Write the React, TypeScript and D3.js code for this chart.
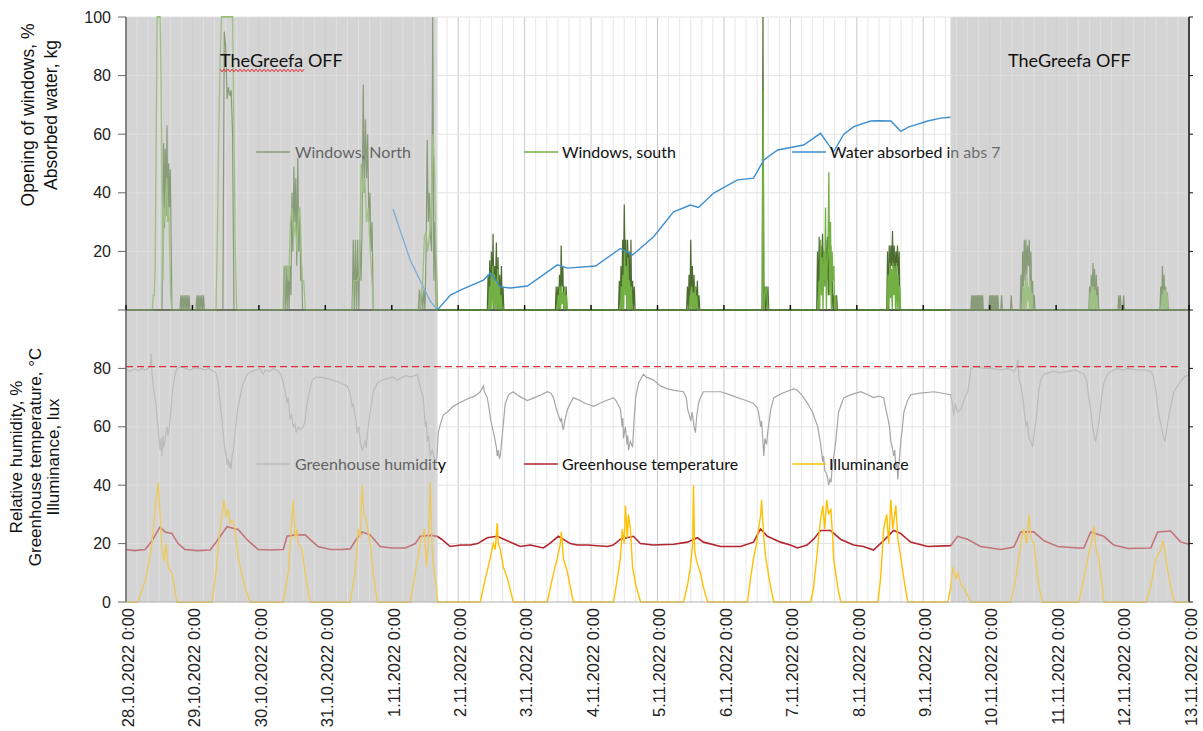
import React from "react";
import * as d3 from "d3";

type Pt = [number, number];
type Burst = [number, number, number[]]; // start hour, sample step (h), values

const dayLabels = [
  "28.10.2022 0:00", "29.10.2022 0:00", "30.10.2022 0:00", "31.10.2022 0:00",
  "1.11.2022 0:00", "2.11.2022 0:00", "3.11.2022 0:00", "4.11.2022 0:00",
  "5.11.2022 0:00", "6.11.2022 0:00", "7.11.2022 0:00", "8.11.2022 0:00",
  "9.11.2022 0:00", "10.11.2022 0:00", "11.11.2022 0:00", "12.11.2022 0:00",
  "13.11.2022 0:00",
];
const topTicks = [20, 40, 60, 80, 100];
const bottomTicks = [0, 20, 40, 60, 80];
const offPeriods: Pt[] = [[0, 112.5], [297.9, 384]];
const humidityLimit = 80.6;

// hours since 28.10.2022 0:00
const temperature: Pt[] = [
  [0, 18], [3, 17.6], [6.9, 18], [9.4, 21], [12.3, 25.7], [14.1, 24], [16.6, 23.5], [18.8, 20], [21.3, 18], [26, 17.6],
  [30.4, 17.8], [32.9, 21], [36.5, 25.8], [40.5, 24.8], [44.1, 21], [47.7, 18], [52, 17.8], [56.8, 18], [58.2, 22.5],
  [61, 23], [64.7, 23], [69.4, 19], [73.8, 18], [78, 18], [81, 18.2], [83.2, 21.5], [85.3, 24], [88.2, 23], [91.8, 19],
  [96, 18.5], [100.9, 18.5], [104.5, 20], [106.3, 22.5], [110, 22.8], [112.4, 22.5], [114, 21.5], [117.1, 19], [121, 19.5],
  [124.4, 19.5], [127, 20], [130.5, 22], [134.1, 22.5], [137.7, 21], [142.4, 19], [146.1, 19.5], [150.8, 18.5], [153, 20],
  [156.2, 22.5], [160.5, 20], [163, 19.5], [166.7, 19.5], [173.9, 19], [176, 19.5], [178.6, 21.5], [183.3, 22.5],
  [185.8, 20], [190.5, 19.5], [197.8, 19.8], [202.8, 20.5], [206.4, 22], [208.6, 20.5], [214.8, 19], [222, 19],
  [226.7, 20.5], [229.2, 25], [231.7, 22.5], [236.4, 20.5], [240, 19.5], [242.6, 18.5], [246, 19.5], [248.4, 21.5],
  [250.9, 24.5], [254.5, 24.5], [258.1, 21.5], [262.8, 19.5], [266.4, 19], [270, 17.8], [273.7, 21], [277.3, 24.5],
  [279.8, 23.5], [283.4, 20.5], [289.6, 19], [297.9, 19.3], [300.4, 22.5], [304, 21.5], [308.7, 19], [316, 18],
  [320.7, 18.8], [323.2, 24], [327.9, 24], [331.5, 21], [336.6, 19], [343.8, 18.5], [346, 18.5], [348.5, 24],
  [353.2, 22.5], [356.8, 19.5], [361.9, 18.3], [370.2, 18.5], [372.7, 24], [377.4, 24.3], [381, 20.5], [384, 19.8],
];

const illuminance: Pt[] = [
  [0, 0], [4.3, 0], [7.2, 8], [9.4, 20], [10.8, 35], [11.2, 38], [11.6, 41], [11.9, 36], [12.3, 30], [13.0, 18], [13.7, 14],
  [14.5, 20], [15.2, 12], [16.6, 10], [18.4, 0],
  [31.1, 0], [32.5, 10], [33.6, 22], [34.7, 30], [35.4, 35], [36.2, 29], [36.9, 32], [37.6, 27], [38.3, 28], [39.4, 25],
  [40.5, 15], [43.0, 5], [44.8, 0],
  [56.8, 0], [58.6, 10], [59.7, 25], [60.4, 35], [61.1, 22], [61.8, 25], [62.2, 20], [63.6, 18], [64.7, 10], [66.5, 0],
  [81, 0], [82.8, 10], [83.9, 25], [84.6, 22], [85.3, 40], [86.0, 30], [86.8, 28], [88.2, 20], [89.3, 10], [90.8, 0],
  [102.7, 0], [104.5, 10], [106.3, 20], [107.8, 25], [108.5, 12], [109.2, 20], [109.9, 41], [110.6, 18], [111.4, 10],
  [112.1, 5], [112.5, 0],
  [128.0, 0], [129.8, 8], [131.6, 15], [132.7, 20], [133.4, 18], [134.1, 27], [134.5, 20], [135.2, 18], [136.3, 12],
  [137.8, 8], [139.9, 0],
  [152.2, 0], [154, 8], [155.8, 15], [156.9, 20], [157.3, 24], [158, 15], [159.5, 10], [161.6, 0],
  [176.1, 0], [177.5, 8], [178.6, 15], [179.3, 25], [180, 20], [180.4, 33], [181.1, 22], [181.5, 30], [182.2, 25],
  [183, 12], [184.1, 6], [185.9, 0],
  [201.4, 0], [202.9, 6], [203.9, 12], [204.7, 20], [205, 40], [205.4, 18], [206.1, 14], [207.5, 10], [208.6, 5], [210.1, 0],
  [224.5, 0], [225.6, 8], [226.7, 15], [227.8, 20], [228.5, 25], [229.3, 30], [229.6, 35], [230.4, 22], [231.1, 15],
  [232.9, 5], [234, 0],
  [247.3, 0], [248.4, 5], [249.5, 15], [250.2, 22], [250.9, 28], [251.7, 33], [252.4, 25], [253.1, 35], [253.8, 30],
  [254.6, 32], [255.3, 22], [255.6, 15], [257.1, 5], [258.2, 0],
  [271.6, 0], [272.6, 8], [273.7, 25], [274.8, 30], [275.5, 20], [276.3, 35], [277, 25], [278.1, 33], [278.8, 22],
  [279.9, 15], [281, 8], [282.4, 0],
  [296.9, 0], [297.9, 5], [298.7, 12], [299.8, 8], [300.5, 10], [301.6, 6], [302.6, 5], [305.2, 0],
  [319.6, 0], [321.4, 8], [322.5, 15], [323.6, 22], [324.3, 25], [325.4, 20], [326.2, 30], [326.9, 22], [328, 20],
  [329.1, 10], [329.8, 5], [331.2, 0],
  [344.2, 0], [346, 8], [347.5, 15], [348.6, 20], [349.7, 26], [350.4, 18], [351.5, 15], [352.2, 8], [353.3, 0],
  [368.5, 0], [370.3, 6], [372.1, 15], [373.9, 18], [374.6, 21], [375.4, 17], [376.4, 10], [377.5, 5], [378.6, 0], [384, 0],
];

const humidity: Pt[] = [
  [0, 79.5], [1.5, 79], [3, 79.8], [4.5, 79.2], [5.5, 80], [7, 79.5], [8.7, 80.5], [9.1, 85], [9.4, 78], [10.1, 72],
  [10.8, 68], [11.2, 63], [11.6, 60], [12.0, 55], [12.3, 52], [12.7, 56], [13.0, 50], [13.4, 57], [13.7, 53], [14.1, 55],
  [14.5, 58], [14.8, 60], [15.2, 57], [15.9, 62], [16.6, 70], [17.2, 75], [17.8, 78], [18.4, 80], [20, 80.5], [21.5, 80],
  [23, 79.5], [25, 80.2], [26.8, 80], [28.5, 79.5], [30, 80], [31.5, 79], [32.5, 78.5], [33.3, 75], [34, 68], [34.7, 62],
  [35.4, 55], [35.8, 52], [36.2, 50], [36.5, 47], [37, 49], [37.3, 46], [37.6, 48], [38, 45.5], [38.3, 50], [38.8, 52],
  [39.4, 58], [40.3, 66], [41.2, 70], [42, 74], [43.8, 78], [45.5, 79], [47, 79.5], [48.5, 80], [49.5, 78], [50.3, 79.5],
  [52, 79], [53.2, 80], [55, 79], [56, 78], [56.8, 75], [57.5, 72], [58.2, 68], [58.6, 70], [59, 66], [59.3, 63],
  [59.8, 64], [60.4, 60], [61, 61], [61.5, 58], [62.2, 60], [63, 59], [64, 60], [64.7, 62], [65.4, 68], [66.2, 72],
  [67.3, 76], [68.5, 77], [70.1, 77], [72.5, 76.5], [74.8, 76], [77.5, 75], [79.9, 74], [80.8, 72], [81.7, 67],
  [82.1, 68], [82.5, 65], [83.1, 62], [83.5, 58], [84.1, 60], [84.6, 55], [85.3, 52], [85.7, 53], [86.4, 55], [86.8, 53],
  [87.5, 60], [88.2, 65], [89.3, 72], [90.8, 75], [92.5, 76], [94.5, 76.5], [96.5, 77], [98, 76], [99, 76.5], [101, 77.5],
  [103, 77], [105.2, 78], [106, 75], [106.7, 72], [107.4, 70], [108.1, 60], [108.5, 62], [108.8, 55], [109.3, 57],
  [109.9, 50], [110.6, 52], [111.4, 49], [112.1, 48], [112.5, 52], [112.8, 58], [113.6, 61], [114.6, 64], [116, 65],
  [118.2, 67], [121, 68.5], [124.4, 70], [126, 70.5], [128, 72], [129.1, 74], [129.5, 72], [130.5, 70], [131.2, 66],
  [131.6, 63], [132.3, 60], [133, 57], [133.4, 55], [133.8, 53], [134.1, 50], [134.5, 52], [134.9, 49], [135.2, 50],
  [135.6, 54], [136, 58], [137, 68], [138.2, 71], [139.9, 72], [142, 70.5], [145, 69], [147.5, 70], [150, 71], [152.2, 72],
  [153.5, 71.5], [154.4, 70], [155.5, 66], [156.2, 64], [156.9, 62], [157.3, 63], [157.7, 60], [158, 59], [158.5, 62],
  [159.5, 66], [160.5, 68], [161.6, 70], [164, 69], [166, 68], [168.9, 67], [171, 68], [173.5, 69], [176.1, 70], [177, 69],
  [178.6, 66], [179.2, 60], [179.5, 63], [179.7, 56], [180.4, 60], [181, 54], [181.3, 57], [181.5, 52], [182.2, 55],
  [183, 53], [183.5, 62], [184.1, 70], [185.2, 75], [186.9, 78], [188, 77], [190.6, 76], [193, 74], [195.6, 73],
  [198, 72.5], [201.4, 72], [202.4, 70], [202.9, 66], [203.5, 64], [204, 62], [204.5, 65], [205.2, 60], [205.7, 58],
  [206.1, 63], [206.8, 68], [207.5, 70], [208.6, 72], [212, 72], [214.8, 72], [218, 71], [220.9, 70], [224, 69],
  [226.7, 68], [228, 66.5], [228.5, 65], [229.3, 60], [229.6, 62], [230, 56], [230.4, 50], [230.8, 56], [231.4, 54],
  [231.8, 58], [232.9, 66], [234, 70], [237, 71.5], [241.2, 73], [242.5, 72.5], [244, 71], [246.2, 68], [248, 65],
  [249.9, 60], [250.4, 57], [250.8, 55], [251.7, 48], [252, 50], [252.4, 45], [253.1, 44], [253.5, 42], [253.8, 40],
  [254.3, 42], [254.7, 41], [255, 45], [255.7, 50], [256.4, 55], [257.4, 65], [258.5, 68], [259.3, 70], [262, 71],
  [265.4, 72], [268, 71], [270, 70], [272, 70.5], [273.7, 70], [274.5, 66], [275.2, 63], [275.8, 60], [276.3, 55],
  [276.8, 53], [277.3, 50], [277.7, 52], [278.1, 46], [278.5, 48], [278.8, 42], [279.3, 48], [279.9, 55], [280.5, 60],
  [281, 65], [282.3, 69], [283.5, 71], [287, 71.5], [291.8, 72], [295, 71.5], [297.9, 71], [298.5, 68], [299, 64],
  [299.6, 68], [300.1, 66], [300.5, 65], [301.6, 66], [303, 70], [304.1, 72], [304.7, 76], [305.2, 80], [307, 80.5],
  [309.9, 80], [313, 80], [316, 79.5], [318.5, 80], [320.7, 79], [321.5, 80], [322.2, 83], [322.6, 76], [323.3, 74],
  [324.2, 68], [325.1, 60], [325.6, 62], [326.2, 56], [326.9, 55], [327.5, 53], [328.1, 58], [328.7, 62], [329.8, 73],
  [330.5, 76], [331.6, 78], [335, 79], [337.5, 78.5], [340.3, 79], [343, 79.5], [346, 78], [347, 76], [347.8, 70],
  [348.6, 65], [349.2, 60], [349.7, 57], [350.3, 55], [350.8, 58], [351.5, 62], [352.4, 70], [353.3, 75], [354.5, 78],
  [355.8, 79], [358, 80], [360, 79.5], [362, 80], [365, 79.5], [368, 79.5], [370.3, 79], [371.2, 77], [372.1, 72],
  [372.8, 66], [373.5, 62], [374.1, 60], [374.6, 57], [375.3, 55], [375.8, 58], [376.4, 62], [377.4, 67], [378.6, 72],
  [380.5, 75], [382.2, 77], [384, 78],
];

const waterAbsorbed: Pt[] = [
  [96.5, 34.4], [99.1, 27], [102.7, 17], [106.3, 10], [109.9, 3], [112.5, 0], [117.2, 5.1], [120.8, 6.8], [129.1, 10.2],
  [131.6, 12.6], [135.2, 7.9], [138.9, 7.5], [145, 8.2], [155.8, 15.4], [159.5, 14.3], [169.6, 15], [178.6, 21],
  [183, 18.8], [190.6, 25], [197.8, 33.5], [203.9, 35.8], [206.8, 35], [212.3, 39.9], [220.9, 44.4], [226.7, 45],
  [230.4, 51.2], [235.4, 54.6], [244.8, 56.3], [250.9, 60.3], [255.6, 54], [259.3, 60], [262.9, 62.6], [269, 64.5],
  [271.6, 64.6], [276.3, 64.5], [279.9, 61], [282.8, 62.5], [284.6, 63], [289.6, 64.5], [294.3, 65.5], [297.9, 65.8],
];

const northBursts: Burst[] = [
  [13.0, 0.3, [0, 40, 57, 28, 55, 32, 63, 30, 50, 35, 48, 25, 0]],
  [19.5, 0.3, [0, 5, 0, 5, 0, 5, 0, 5, 0, 5, 0, 5, 0]],
  [25.3, 0.3, [0, 5, 0, 5, 0, 5, 0, 5, 0, 5, 0]],
  [35.0, 0.5, [0, 95, 90, 72, 76, 73, 75, 60, 0]],
  [56.8, 0.35, [0, 15, 0, 15, 0, 15, 0, 15, 5, 40, 20, 49, 30, 45, 15, 52, 20, 35, 10, 15, 0]],
  [81.7, 0.4, [0, 24, 0, 24, 0, 24, 0, 24, 10, 30, 77, 40, 65, 45, 60, 30, 40, 20, 30, 0]],
  [105.6, 0.4, [0, 7, 0, 7, 0, 7, 0, 20, 58, 30, 40, 25, 20, 100, 10, 30, 0]],
  [130.5, 0.3, [0, 12, 0, 17, 0, 20, 5, 26, 0, 15, 10, 23, 0, 18, 0, 12, 0, 15, 0, 8, 0]],
  [155.1, 0.3, [0, 8, 0, 8, 0, 12, 0, 22, 8, 15, 0, 8, 0, 8, 0]],
  [177.9, 0.3, [0, 10, 0, 15, 0, 24, 10, 36, 15, 24, 0, 24, 10, 20, 0, 24, 0, 10, 0, 8, 0]],
  [202.5, 0.3, [0, 8, 0, 12, 0, 24, 5, 15, 0, 12, 0, 8, 0, 10, 0, 5, 0]],
  [229.8, 0.3, [0, 100, 0, 8, 0, 8, 0, 8, 0]],
  [249.5, 0.3, [0, 20, 0, 25, 10, 22, 5, 26, 15, 20, 8, 24, 10, 25, 5, 20, 15, 22, 0, 10, 0, 5, 0, 0, 5, 0]],
  [274.8, 0.3, [0, 20, 0, 22, 10, 22, 15, 27, 12, 22, 10, 20, 15, 22, 8, 20, 0]],
  [305.2, 0.25, [0, 5, 0, 5, 0, 5, 0, 5, 0, 5, 0, 5, 0, 5, 0, 5, 0, 5, 0]],
  [311.7, 0.25, [0, 5, 0, 5, 0, 5, 0, 5, 0, 5, 0, 5, 0, 5, 0]],
  [316.0, 0.3, [0, 5, 0]],
  [319.5, 0.3, [0, 5, 0]],
  [323.0, 0.3, [0, 12, 0, 20, 8, 24, 10, 24, 12, 22, 15, 24, 8, 20, 0, 10, 0, 5, 0]],
  [347.8, 0.3, [0, 8, 0, 12, 0, 16, 5, 14, 0, 12, 0, 8, 0]],
  [358.3, 0.3, [0, 5, 0, 5, 0, 0, 0, 5, 0]],
  [373.5, 0.3, [0, 8, 0, 15, 5, 12, 0, 8, 0, 6, 0]],
];

const southBursts: Burst[] = [
  [9.5, 0.35, [0, 5, 5, 15, 60, 100, 100, 100, 100, 80, 45, 10, 35, 30, 40, 45, 30, 35, 20, 5, 0]],
  [32.5, 0.5, [0, 25, 60, 85, 100, 100, 100, 100, 100, 100, 100, 100, 100, 60, 20, 0]],
  [57.0, 0.6, [0, 15, 15, 10, 30, 35, 25, 30, 20, 35, 30, 10, 10, 0]],
  [81.7, 0.65, [0, 10, 10, 10, 12, 50, 40, 45, 30, 35, 20, 10, 0]],
  [106.0, 0.6, [0, 5, 10, 25, 27, 20, 25, 30, 60, 50, 20, 0]],
  [131.0, 0.3, [0, 8, 0, 12, 0, 15, 2, 12, 0, 10, 0, 14, 0, 8, 0, 5, 0]],
  [155.8, 0.3, [0, 5, 0, 8, 0, 8, 2, 6, 0, 8, 0, 5, 0]],
  [178.6, 0.3, [0, 8, 0, 12, 0, 20, 5, 15, 0, 18, 0, 10, 0, 8, 0]],
  [203.5, 0.3, [0, 5, 0, 8, 0, 6, 0, 8, 0, 5, 0]],
  [229.8, 0.35, [0, 75, 0, 5, 8, 5, 0]],
  [250.0, 0.3, [0, 10, 0, 24, 5, 18, 0, 20, 10, 35, 0, 15, 20, 47, 5, 30, 0, 20, 10, 15, 0, 5, 0]],
  [275.0, 0.3, [0, 12, 0, 16, 4, 14, 0, 16, 5, 15, 0, 16, 0, 12, 0, 8, 0]],
  [324.0, 0.3, [0, 8, 0, 10, 0, 12, 3, 8, 0, 10, 0, 6, 0]],
  [348.0, 0.3, [0, 6, 0, 8, 0, 8, 0, 7, 0, 5, 0]],
  [374.0, 0.3, [0, 5, 0, 7, 0, 7, 0, 6, 0]],
];

function burstsToSeries(bursts: Burst[]): Pt[] {
  const pts: Pt[] = [[0, 0]];
  bursts.forEach(([t0, dt, vals]) => vals.forEach((v, i) => pts.push([t0 + i * dt, v])));
  pts.push([384, 0]);
  return pts;
}

const C = {
  north: "#4c6d2f",
  south: "#72b043",
  water: "#3d8fd1",
  hum: "#a6a6a6",
  temp: "#b3262e",
  illum: "#ffc000",
  shade: "#d4d4d4",
};

export default function App() {
  const W = 1203, H = 731;
  const x = d3.scaleLinear().domain([0, 384]).range([126, 1189]);
  const yT = d3.scaleLinear().domain([0, 100]).range([310, 17]);
  const yB = d3.scaleLinear().domain([0, 100]).range([602, 310]);
  const lineT = d3.line<Pt>().x((d) => x(d[0])).y((d) => yT(d[1]));
  const lineB = d3.line<Pt>().x((d) => x(d[0])).y((d) => yB(d[1]));
  const north = burstsToSeries(northBursts);
  const south = burstsToSeries(southBursts);
  const days = d3.range(0, 17);
  const minor = d3.range(0, 385, 4).filter((h) => h % 24 !== 0);
  const sans = "'Liberation Sans', Arial, sans-serif";
  const cal = "Lato, 'Open Sans', sans-serif";

  const wave = (x0: number, x1: number, y: number) => {
    const pts: Pt[] = d3.range(x0, x1 + 0.1, 2).map((px, i) => [px, y + (i % 2 ? 1.3 : -1.3)]);
    return d3.line()(pts) || "";
  };

  const legendT = 152, legendB = 464;

  return (
    <svg width={W} height={H} style={{ position: "absolute", left: 0, top: 0, background: "#fff" }}>
      {offPeriods.map(([a, b], i) => (
        <rect key={"s" + i} x={x(a)} y={17} width={x(b) - x(a)} height={602 - 17} fill={C.shade} />
      ))}
      {minor.map((h) => (
        <line key={"m" + h} x1={x(h)} x2={x(h)} y1={17} y2={602} stroke="#e8e8e8" strokeWidth={1} />
      ))}
      {days.map((d) => (
        <line key={"d" + d} x1={x(d * 24)} x2={x(d * 24)} y1={17} y2={602} stroke="#c9c9c9" strokeWidth={1} />
      ))}
      {topTicks.map((t) => (
        <line key={"gt" + t} x1={126} x2={1189} y1={yT(t)} y2={yT(t)} stroke="#e4e4e4" />
      ))}
      {[20, 40, 60, 80].map((t) => (
        <line key={"gb" + t} x1={126} x2={1189} y1={yB(t)} y2={yB(t)} stroke="#e4e4e4" />
      ))}

      <path d={lineB(humidity) || ""} fill="none" stroke={C.hum} strokeWidth={1.2} />
      <path d={lineB(temperature) || ""} fill="none" stroke={C.temp} strokeWidth={1.6} />
      <path d={lineB(illuminance) || ""} fill="none" stroke={C.illum} strokeWidth={1.4} />

      <line x1={126} x2={1189} y1={310} y2={310} stroke="#333" strokeWidth={1.5} />
      <path d={lineT(north) || ""} fill="none" stroke={C.north} strokeWidth={1.2} />
      <path d={lineT(south) || ""} fill="none" stroke={C.south} strokeWidth={1.3} />
      <path d={lineT(waterAbsorbed) || ""} fill="none" stroke={C.water} strokeWidth={1.4} />

      <g fontFamily={cal} fontSize={16}>
        <line x1={256} x2={290} y1={legendT} y2={legendT} stroke={C.north} strokeWidth={1.5} />
        <text x={295} y={legendT + 5.5} fill="#000">Windows, North</text>
        <line x1={524} x2={558} y1={legendT} y2={legendT} stroke={C.south} strokeWidth={1.5} />
        <text x={562} y={legendT + 5.5} fill="#111">Windows, south</text>
        <line x1={792} x2={826} y1={legendT} y2={legendT} stroke={C.water} strokeWidth={1.5} />
        <text x={830} y={legendT + 5.5} fill="#111">Water absorbed in abs 7</text>

        <line x1={256} x2={290} y1={legendB} y2={legendB} stroke={C.hum} strokeWidth={1.5} />
        <text x={295} y={legendB + 5.5} fill="#000">Greenhouse humidity</text>
        <line x1={524} x2={558} y1={legendB} y2={legendB} stroke={C.temp} strokeWidth={1.5} />
        <text x={562} y={legendB + 5.5} fill="#111">Greenhouse temperature</text>
        <line x1={792} x2={826} y1={legendB} y2={legendB} stroke={C.illum} strokeWidth={1.5} />
        <text x={829} y={legendB + 5.5} fill="#111">Illuminance</text>
      </g>

      {offPeriods.map(([a, b], i) => (
        <rect key={"o" + i} x={x(a)} y={17} width={x(b) - x(a)} height={602 - 17} fill={C.shade} opacity={0.45} />
      ))}

      <line x1={126} x2={1180} y1={yB(humidityLimit)} y2={yB(humidityLimit)} stroke="#e2303a" strokeWidth={1.4} strokeDasharray="7 4" />

      <line x1={126} x2={126} y1={17} y2={602} stroke="#666" strokeWidth={1.5} />
      <line x1={1189} x2={1189} y1={17} y2={602} stroke="#111" strokeWidth={1.5} />
      <line x1={126} x2={1189} y1={602} y2={602} stroke="#b0b0b0" strokeWidth={1} />
      <line x1={126} x2={1189} y1={310} y2={310} stroke="#3c4a30" strokeWidth={1.2} opacity={0.8} />
      {days.map((d) => (
        <line key={"dt" + d} x1={x(d * 24)} x2={x(d * 24)} y1={305} y2={310} stroke="#111" strokeWidth={1.5} />
      ))}
      <g fontFamily={sans} fontSize={16} fill="#222">
        {[0, ...topTicks].map((t) => (
          <g key={"tt" + t}>
            <line x1={118} x2={126} y1={yT(t)} y2={yT(t)} stroke="#666" />
            <line x1={1189} x2={1193} y1={yT(t)} y2={yT(t)} stroke="#111" />
            {t > 0 && (
              <text x={111} y={yT(t)} dy="0.35em" textAnchor="end">{t}</text>
            )}
          </g>
        ))}
        {bottomTicks.map((t) => (
          <g key={"bt" + t}>
            <line x1={118} x2={126} y1={yB(t)} y2={yB(t)} stroke="#666" />
            <line x1={1189} x2={1193} y1={yB(t)} y2={yB(t)} stroke="#111" />
            <text x={111} y={yB(t)} dy="0.35em" textAnchor="end">{t}</text>
          </g>
        ))}
      </g>
      <g fontFamily={sans} fontSize={16.5} fill="#222">
        {dayLabels.map((lab, i) => (
          <text key={lab} transform={`translate(${x(i * 24) + 2},608) rotate(-90)`} textAnchor="end" dy="0.35em">
            {lab}
          </text>
        ))}
      </g>
      <g fontFamily={sans} fill="#111">
        <text fontSize={17.5} transform="translate(34,115) rotate(-90)" textAnchor="middle">Opening of windows, %</text>
        <text fontSize={17.5} transform="translate(57,115) rotate(-90)" textAnchor="middle">Absorbed water, kg</text>
        <text fontSize={17} transform="translate(22,457) rotate(-90)" textAnchor="middle">Relative humidity, %</text>
        <text fontSize={17} transform="translate(41,457) rotate(-90)" textAnchor="middle">Greenhouse temperature, °C</text>
        <text fontSize={17} transform="translate(59,457) rotate(-90)" textAnchor="middle">Illuminance, lux</text>
      </g>

      <g fontFamily={cal} fontSize={18} fill="#111">
        <text x={220} y={67}>TheGreefa OFF</text>
        <text x={1008} y={67}>TheGreefa OFF</text>
      </g>
      <path d={wave(220, 304, 70.5)} fill="none" stroke="#e0262e" strokeWidth={1} />
    </svg>
  );
}
